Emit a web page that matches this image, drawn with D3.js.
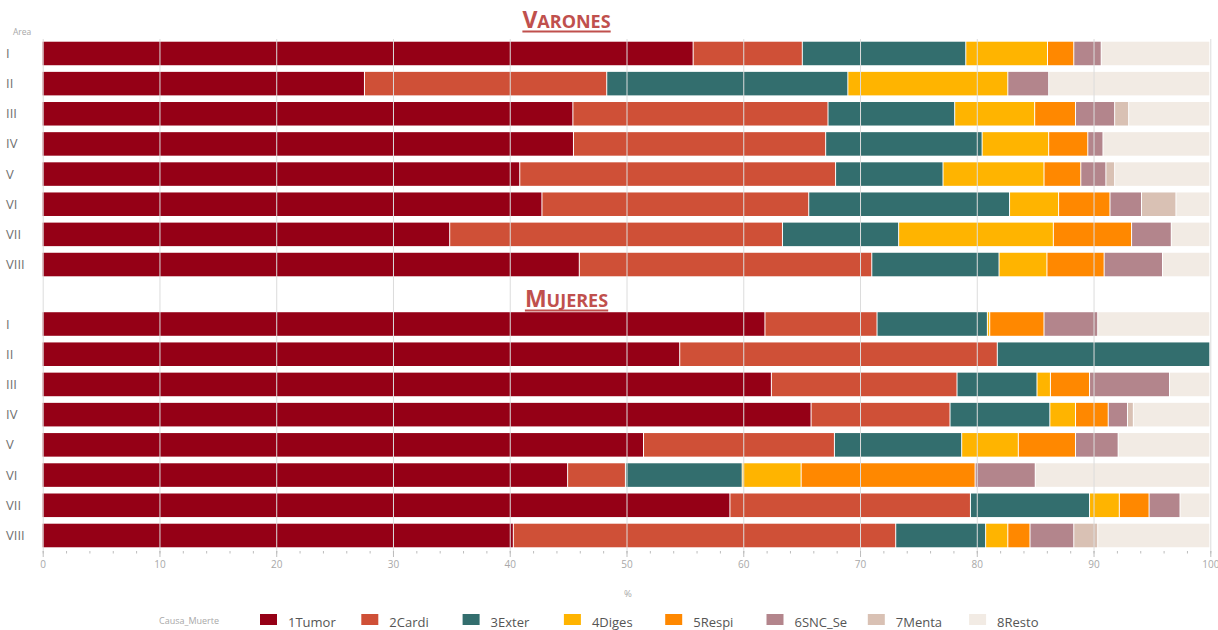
<!DOCTYPE html>
<html>
<head>
<meta charset="utf-8">
<script src="https://cdn.jsdelivr.net/npm/d3@7"></script>
<style>
  body { margin: 0; background: #fff; }
  text { font-family: "Open Sans", "DejaVu Sans", sans-serif; }
</style>
</head>
<body>
<script>
const areas = ['I', 'II', 'III', 'IV', 'V', 'VI', 'VII', 'VIII']
const causes = ['1Tumor', '2Cardi', '3Exter', '4Diges', '5Respi', '6SNC_Se', '7Menta', '8Resto']
const xTicks = [0, 10, 20, 30, 40, 50, 60, 70, 80, 90, 100]

// % por causa, una fila por area (orden de causes)
const varonesPct = [
  [55.75, 9.35, 14.0, 7.0, 2.25, 2.35, 0, 9.3],
  [27.6, 20.75, 20.65, 13.7, 0, 3.5, 0, 13.8],
  [45.45, 21.85, 10.85, 6.85, 3.5, 3.35, 1.2, 6.95],
  [45.5, 21.6, 13.4, 5.7, 3.35, 1.3, 0, 9.15],
  [40.9, 27.05, 9.2, 8.65, 3.15, 2.15, 0.75, 8.15],
  [42.8, 22.85, 17.2, 4.2, 4.4, 2.7, 2.95, 2.9],
  [34.9, 28.5, 9.95, 13.25, 6.7, 3.4, 0, 3.3],
  [46.0, 25.05, 10.9, 4.1, 4.9, 5.0, 0, 4.05]
]
const mujeresPct = [
  [61.9, 9.6, 9.45, 0.2, 4.65, 4.6, 0, 9.6],
  [54.6, 27.2, 18.2, 0, 0, 0, 0, 0],
  [62.45, 15.9, 6.85, 1.15, 3.35, 6.85, 0, 3.45],
  [65.85, 11.9, 8.55, 2.2, 2.8, 1.65, 0.5, 6.55],
  [51.5, 16.35, 10.9, 4.85, 4.9, 3.65, 0, 7.85],
  [45.0, 4.95, 10.0, 5.05, 14.9, 5.15, 0, 14.95],
  [58.9, 20.6, 10.2, 2.55, 2.55, 2.65, 0, 2.55],
  [40.35, 32.75, 7.7, 1.9, 1.9, 3.75, 2.05, 9.6]
]

const palette = ['#950016', '#cf5037', '#336e6e', '#ffb400', '#ff8800', '#b3858c', '#d9c1b4', '#f2ebe4']

const width = 1218
const height = 630

const svg = d3.select('body').append('svg')
  .attr('width', width)
  .attr('height', height)
  .attr('xmlns', 'http://www.w3.org/2000/svg')

const x = d3.scaleLinear().domain([0, 100]).range([42.7, 1210.3])
const color = d3.scaleOrdinal().domain(causes).range(palette)

const stack = d3.stack().keys(causes)
const toRows = (rows) => rows.map((r, i) => {
  const o = { area: areas[i] }
  causes.forEach((c, j) => { o[c] = r[j] })
  return o
})

const panels = [
  { title: 'Varones', rows: varonesPct, range: [38.4, 279.6], titleY: 28 },
  { title: 'Mujeres', rows: mujeresPct, range: [308.9, 550.6], titleY: 307 }
]

panels.forEach((p) => {
  const y = d3.scaleBand().domain(areas).range(p.range).paddingInner(0.22).paddingOuter(0.11)
  const series = stack(toRows(p.rows))

  svg.append('g')
    .selectAll('g')
    .data(series)
    .enter()
    .append('g')
    .attr('fill', (s) => color(s.key))
    .selectAll('rect')
    .data((s) => s.filter((d) => d[1] - d[0] > 0))
    .enter()
    .append('rect')
    .attr('x', (d) => x(d[0]))
    .attr('y', (d) => y(d.data.area))
    .attr('width', (d) => Math.max(0, x(d[1]) - x(d[0]) - 1))
    .attr('height', y.bandwidth())

  // etiquetas de area
  svg.append('g')
    .selectAll('text')
    .data(areas)
    .enter()
    .append('text')
    .attr('x', 6)
    .attr('y', (a) => y(a) + y.bandwidth() / 2)
    .attr('dy', '0.35em')
    .attr('font-size', 13)
    .attr('fill', '#707070')
    .text((a) => a)

  // titulo en versalitas subrayado
  const t = svg.append('text')
    .attr('x', 566.5)
    .attr('y', p.titleY)
    .attr('text-anchor', 'middle')
    .attr('font-weight', 'bold')
    .attr('fill', '#c0504d')
  t.append('tspan').attr('font-size', 23).text(p.title[0].toUpperCase())
  t.append('tspan').attr('font-size', 18).text(p.title.slice(1).toUpperCase())
  const bb = t.node().getBBox()
  svg.append('line')
    .attr('x1', bb.x).attr('x2', bb.x + bb.width)
    .attr('y1', p.titleY + 3.5).attr('y2', p.titleY + 3.5)
    .attr('stroke', '#c0504d')
    .attr('stroke-width', 2)
})

// lineas de cuadricula por encima de las barras
svg.append('g')
  .attr('transform', 'translate(0, 552)')
  .call(d3.axisBottom(x)
    .tickValues(xTicks)
    .tickSize(-513)
    .tickFormat(''))
  .call((g) => g.select('.domain').remove())
  .call((g) => g.selectAll('line').attr('stroke', '#dcdcdc'))

// eje x
svg.append('g')
  .attr('transform', 'translate(0, 551)')
  .call(d3.axisBottom(x).tickValues(d3.range(0, 101, 2)).tickSize(2.5).tickFormat(''))
  .call((g) => g.select('.domain').remove())
  .call((g) => g.selectAll('line').attr('stroke', '#bdbdbd'))

svg.append('g')
  .attr('transform', 'translate(0, 551)')
  .call(d3.axisBottom(x).tickValues(xTicks).tickSize(6).tickPadding(4))
  .call((g) => g.select('.domain').remove())
  .call((g) => g.selectAll('line').attr('stroke', '#bdbdbd'))
  .call((g) => g.selectAll('text')
    .attr('fill', '#a8a8a8')
    .attr('font-size', 10)
    .style('font-family', '"Open Sans", sans-serif'))

svg.append('text')
  .attr('x', 628)
  .attr('y', 597)
  .attr('text-anchor', 'middle')
  .attr('font-size', 9.5)
  .attr('fill', '#a8a8a8')
  .text('%')

svg.append('text')
  .attr('x', 13)
  .attr('y', 35)
  .attr('font-size', 8.5)
  .attr('fill', '#a8a8a8')
  .text('Area')

// leyenda
const legend = svg.append('g').attr('transform', 'translate(0, 614)')
legend.append('text')
  .attr('x', 159)
  .attr('y', 10)
  .attr('font-size', 9)
  .attr('fill', '#a8a8a8')
  .text('Causa_Muerte')

const item = legend.selectAll('g.item')
  .data(causes)
  .enter()
  .append('g')
  .attr('class', 'item')
  .attr('transform', (c, i) => `translate(${260 + i * 101.3}, 0)`)
item.append('rect')
  .attr('width', 17)
  .attr('height', 11)
  .attr('fill', (c) => color(c))
item.append('text')
  .attr('x', 28)
  .attr('y', 13)
  .attr('font-size', 13)
  .attr('fill', '#555')
  .text((c) => c)
</script>
</body>
</html>
